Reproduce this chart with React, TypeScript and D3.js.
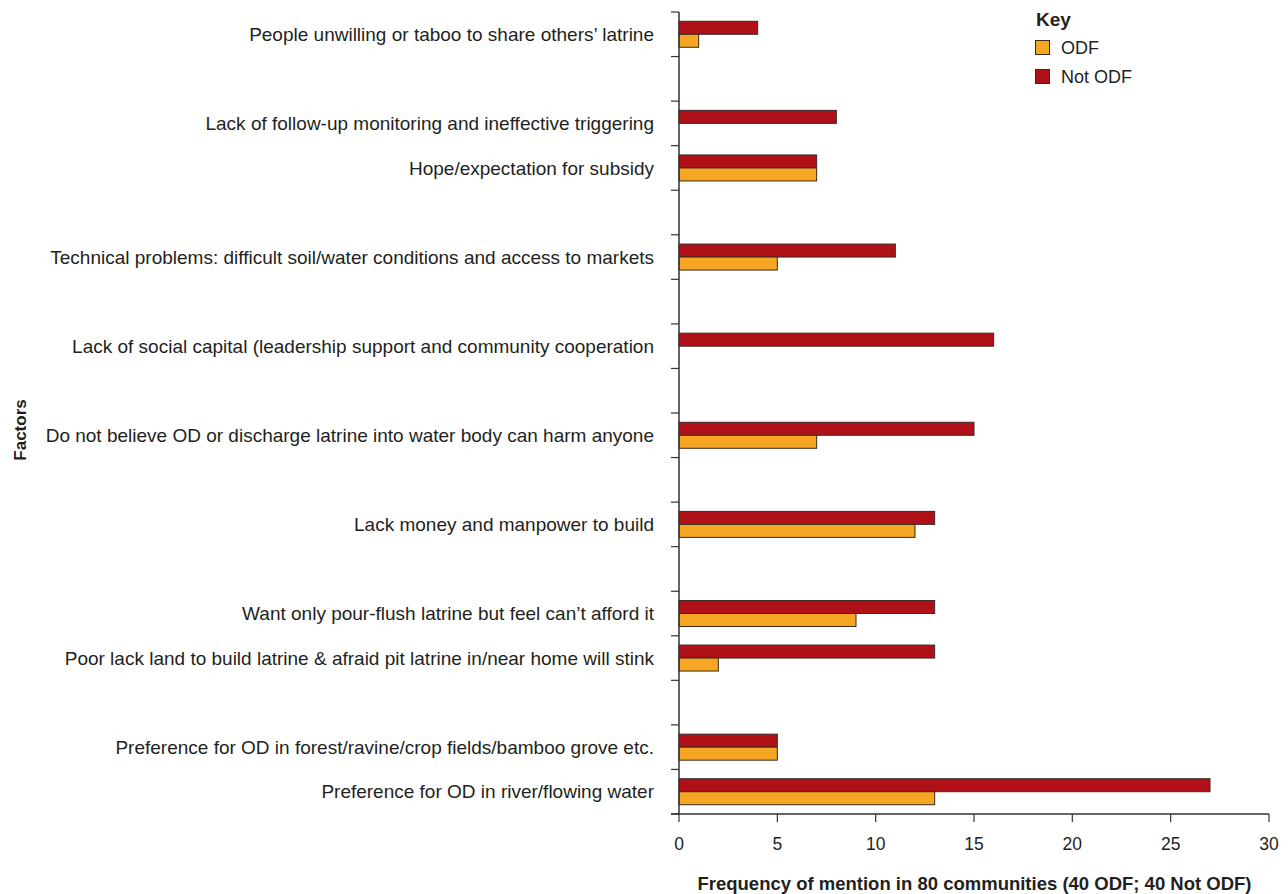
import React from "react";
import * as d3 from "d3";

const categories: string[] = [
  "People unwilling or taboo to share others’ latrine",
  "",
  "Lack of follow-up monitoring and ineffective triggering",
  "Hope/expectation for subsidy",
  " ",
  "Technical problems: difficult soil/water conditions and access to markets",
  "  ",
  "Lack of social capital (leadership support and community cooperation",
  "   ",
  "Do not believe OD or discharge latrine into water body can harm anyone",
  "    ",
  "Lack money and manpower to build",
  "     ",
  "Want only pour-flush latrine but feel can’t afford it",
  "Poor lack land to build latrine & afraid pit latrine in/near home will stink",
  "      ",
  "Preference for OD in forest/ravine/crop fields/bamboo grove etc.",
  "Preference for OD in river/flowing water",
];
const notOdf: (number | null)[] = [4, null, 8, 7, null, 11, null, 16, null, 15, null, 13, null, 13, 13, null, 5, 27];
const odf: (number | null)[] = [1, null, 0, 7, null, 5, null, 0, null, 7, null, 12, null, 9, 2, null, 5, 13];
const xTicks: number[] = [0, 5, 10, 15, 20, 25, 30];
const seriesNames = ["ODF", "Not ODF"];
const colors = { ODF: "#F6A623", "Not ODF": "#B01017" };

export default function App() {
  const W = 1288, H = 894;
  const left = 679, right = 1269, top = 12, bottom = 814;
  const x = d3.scaleLinear().domain([0, 30]).range([left, right]);
  const y = d3.scaleBand<string>().domain(categories).range([top, bottom]);
  const bw = y.bandwidth();
  const barH = 13;
  const pad = (bw - 2 * barH) / 2;
  const font = "'Liberation Sans', Arial, Helvetica, sans-serif";
  const textColor = "#231f20";
  const axisColor = "#333";
  const tickEdges = d3.range(categories.length + 1).map((i) => top + i * bw);

  return (
    <svg width={W} height={H} style={{ position: "absolute", left: 0, top: 0, background: "#fff" }} fontFamily={font}>
      {categories.map((c, i) => {
        const y0 = y(c)!;
        const r = notOdf[i];
        const o = odf[i];
        return (
          <g key={i}>
            {r !== null && r > 0 && (
              <rect x={x(0)} y={y0 + pad} width={x(r) - x(0)} height={barH} fill={colors["Not ODF"]} stroke="#3a2a2a" strokeWidth={1} />
            )}
            {o !== null && o > 0 && (
              <rect x={x(0)} y={y0 + pad + barH} width={x(o) - x(0)} height={barH} fill={colors.ODF} stroke="#3a2a1a" strokeWidth={1} />
            )}
            {c.trim() !== "" && (
              <text x={654} y={y0 + bw / 2} dy="0.35em" textAnchor="end" fontSize={19} fill={textColor}>
                {c}
              </text>
            )}
          </g>
        );
      })}
      <line x1={left} x2={left} y1={top} y2={bottom} stroke={axisColor} strokeWidth={1.5} />
      {tickEdges.map((t, i) => (
        <line key={i} x1={left - 8} x2={left} y1={t} y2={t} stroke={axisColor} strokeWidth={1.2} />
      ))}
      <line x1={left - 8} x2={right} y1={bottom} y2={bottom} stroke={axisColor} strokeWidth={1.5} />
      {xTicks.map((t) => (
        <g key={t}>
          <line x1={x(t)} x2={x(t)} y1={bottom} y2={bottom + 8} stroke={axisColor} strokeWidth={1.2} />
          <text x={x(t)} y={bottom + 30} dy="0.35em" textAnchor="middle" fontSize={17.5} fill={textColor}>
            {t}
          </text>
        </g>
      ))}
      <text x={974.5} y={890} textAnchor="middle" fontSize={18.5} fontWeight="bold" fill={textColor}>
        Frequency of mention in 80 communities (40 ODF; 40 Not ODF)
      </text>
      <text transform="translate(26,430) rotate(-90)" textAnchor="middle" fontSize={17} fontWeight="bold" fill={textColor}>
        Factors
      </text>
      <text x={1036} y={26} fontSize={19} fontWeight="bold" fill={textColor}>Key</text>
      {seriesNames.map((s, i) => (
        <g key={s}>
          <rect x={1035.5} y={40.5 + i * 29} width={14} height={14} fill={colors[s as keyof typeof colors]} stroke="#3a2a1a" strokeWidth={1} />
          <text x={1061} y={48 + i * 29} dy="0.35em" fontSize={18} fill={textColor}>{s}</text>
        </g>
      ))}
    </svg>
  );
}
